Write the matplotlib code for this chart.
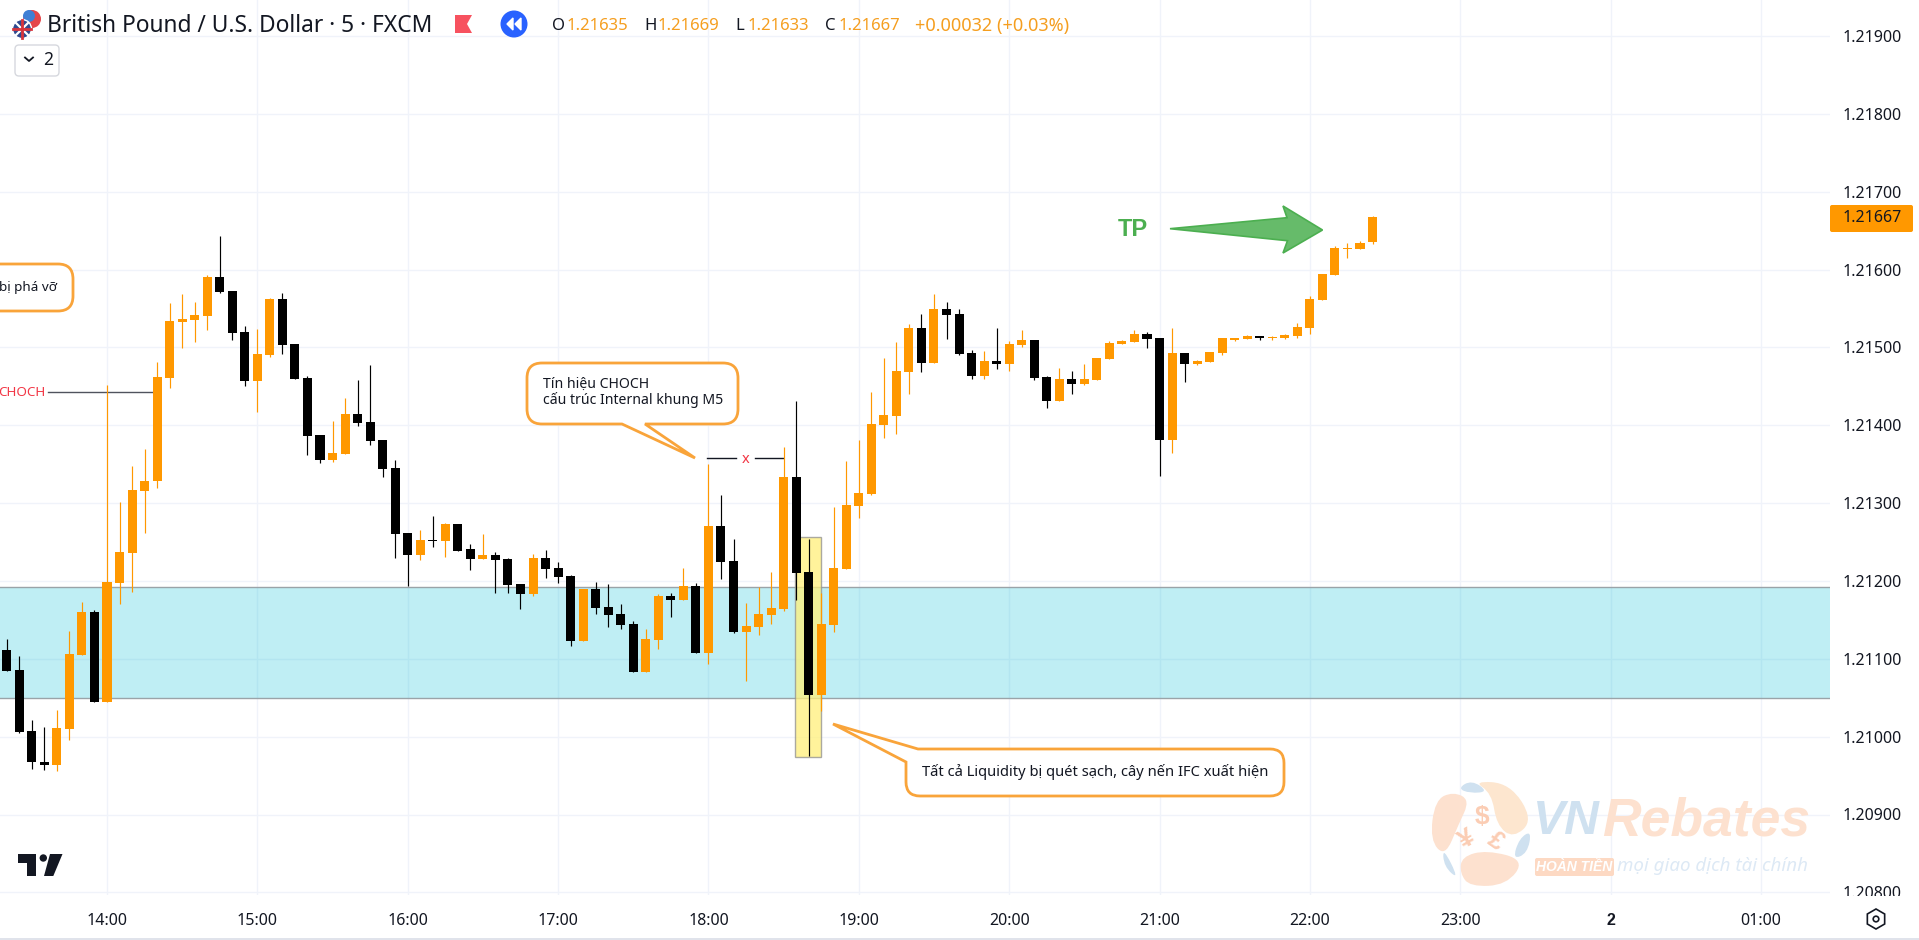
import numpy as np
import matplotlib
matplotlib.use("Agg")
import matplotlib.pyplot as plt
from matplotlib.path import Path
from matplotlib.patches import PathPatch, Rectangle, Circle, RegularPolygon, FancyBboxPatch

plt.rcParams['font.family'] = ['Noto Sans', 'DejaVu Sans']

# prices in 1e-5 units, one entry per 5 minute bar, first bar is 13:20
opens = [121111, 121086, 121007, 120967, 120964, 121010, 121105, 121160,
         121044, 121197, 121236, 121316, 121328, 121461, 121532, 121535, 121540, 121590, 121572, 121520,
         121457, 121490, 121562, 121504, 121461, 121387, 121355, 121363, 121414, 121404, 121381, 121345,
         121262, 121233, 121253, 121251, 121273, 121241, 121228, 121233, 121228, 121196, 121183, 121229,
         121217, 121206, 121123, 121190, 121167, 121158, 121145, 121083, 121124, 121181, 121176, 121194,
         121107, 121271, 121226, 121134, 121141, 121156, 121164, 121334, 121212, 121053, 121143, 121215,
         121296, 121312, 121400, 121412, 121468, 121525, 121480, 121549, 121543, 121493, 121463, 121482,
         121479, 121503, 121509, 121462, 121431, 121459, 121453, 121458, 121485, 121504, 121507, 121517,
         121512, 121381, 121493, 121479, 121481, 121493, 121509, 121511, 121515, 121512, 121512, 121515,
         121525, 121561, 121593, 121626, 121626, 121635]
highs = [121126, 121104, 121022, 121012, 121034, 121136, 121173, 121163,
         121452, 121301, 121348, 121369, 121481, 121557, 121568, 121558, 121593, 121643, 121572, 121528,
         121523, 121564, 121570, 121504, 121463, 121387, 121405, 121435, 121458, 121478, 121381, 121356,
         121262, 121266, 121283, 121274, 121273, 121247, 121260, 121237, 121229, 121196, 121235, 121240,
         121224, 121208, 121190, 121199, 121196, 121170, 121149, 121138, 121183, 121185, 121217, 121197,
         121350, 121310, 121254, 121172, 121192, 121211, 121372, 121431, 121254, 121185, 121295, 121354,
         121381, 121443, 121486, 121507, 121530, 121543, 121569, 121558, 121549, 121497, 121495, 121525,
         121508, 121522, 121509, 121463, 121473, 121470, 121479, 121486, 121508, 121510, 121522, 121520,
         121512, 121525, 121493, 121484, 121494, 121512, 121512, 121516, 121515, 121515, 121517, 121531,
         121566, 121594, 121630, 121634, 121637, 121669]
lows = [121084, 121005, 120959, 120957, 120956, 120996, 121105, 121044,
        121044, 121171, 121186, 121262, 121320, 121448, 121499, 121507, 121522, 121570, 121509, 121450,
        121417, 121488, 121492, 121459, 121362, 121352, 121353, 121363, 121399, 121375, 121333, 121229,
        121193, 121227, 121243, 121231, 121238, 121214, 121228, 121185, 121185, 121164, 121181, 121204,
        121197, 121116, 121123, 121158, 121141, 121138, 121083, 121083, 121113, 121154, 121176, 121107,
        121093, 121203, 121133, 121071, 121131, 121145, 121161, 121176, 120975, 121033, 121134, 121215,
        121281, 121310, 121383, 121389, 121440, 121468, 121480, 121511, 121490, 121459, 121459, 121472,
        121470, 121500, 121458, 121422, 121431, 121440, 121452, 121458, 121485, 121504, 121507, 121499,
        121335, 121364, 121456, 121477, 121481, 121490, 121508, 121511, 121509, 121509, 121511, 121512,
        121517, 121561, 121593, 121615, 121626, 121633]
closes = [121084, 121006, 120967, 120963, 121011, 121106, 121160, 121044,
          121199, 121237, 121317, 121329, 121462, 121534, 121536, 121541, 121590, 121571, 121518, 121457,
          121492, 121562, 121503, 121459, 121386, 121355, 121364, 121414, 121403, 121380, 121344, 121260,
          121233, 121252, 121251, 121273, 121239, 121228, 121233, 121227, 121195, 121183, 121229, 121215,
          121205, 121123, 121190, 121165, 121156, 121143, 121083, 121125, 121181, 121176, 121194, 121107,
          121271, 121224, 121134, 121142, 121158, 121165, 121334, 121210, 121053, 121145, 121217, 121297,
          121313, 121402, 121413, 121470, 121525, 121480, 121549, 121542, 121491, 121463, 121482, 121479,
          121504, 121509, 121461, 121431, 121459, 121453, 121459, 121486, 121506, 121508, 121517, 121511,
          121381, 121493, 121479, 121482, 121494, 121512, 121512, 121515, 121512, 121513, 121516, 121526,
          121562, 121594, 121628, 121628, 121634, 121667]
first_bar = -8  # bar 0 is 14:00

time_ticks = [0, 12, 24, 36, 48, 60, 72, 84, 96, 108, 120, 132]
time_labels = ['14:00', '15:00', '16:00', '17:00', '18:00', '19:00', '20:00', '21:00', '22:00', '23:00', '2', '01:00']
price_ticks = [1.208, 1.209, 1.21, 1.211, 1.212, 1.213, 1.214, 1.215, 1.216, 1.217, 1.218, 1.219]
last_price = 1.21667
zone_top, zone_bottom = 1.21192, 1.21050
ifc_left, ifc_right, ifc_top, ifc_bottom = 54.9, 57.0, 1.212565, 1.20974
choch_price = 1.21443
x_price = 1.21358

ORANGE = '#FF9800'
GRID = '#F0F3FA'
INK = '#131722'
BOLD = 'Liberation Sans'

fig = plt.figure(figsize=(19.19, 9.40), dpi=100)
ax = fig.add_axes([0, 45 / 940, 1830 / 1919, 895 / 940])
ax.set_xlim(-107 / 12.53, (1830 - 107) / 12.53)
ax.set_ylim(1.219 - 859 / 77850, 1.219 + 36 / 77850)

o = np.array(opens) / 1e5
h = np.array(highs) / 1e5
l = np.array(lows) / 1e5
c = np.array(closes) / 1e5
idx = np.arange(len(o)) + first_bar
colors = [ORANGE if cc >= oo else '#000000' for oo, cc in zip(o, c)]

ax.axhspan(zone_bottom, zone_top, facecolor='#00BCD4', alpha=0.25, zorder=1.5, lw=0)
ax.axhline(zone_top, color='#9AA3A8', lw=1, zorder=1.6)
ax.axhline(zone_bottom, color='#9AA3A8', lw=1, zorder=1.6)
ax.add_patch(Rectangle((ifc_left, ifc_bottom), ifc_right - ifc_left, ifc_top - ifc_bottom,
                       facecolor='#FFF07A', alpha=0.75, edgecolor='#8F8F8F', lw=1, zorder=1.8))

ax.vlines(idx, l, h, colors=colors, lw=0.85, zorder=3)
ax.bar(idx, np.maximum(np.abs(c - o), 1.5e-5), bottom=np.minimum(o, c), width=0.72, color=colors, lw=0, zorder=3.1)

# CHOCH marks
ax.plot([-4.7, 3.67], [choch_price, choch_price], color='#50535E', lw=1, zorder=2.5)
ax.text(-4.95, choch_price - 1e-5, 'CHOCH', color='#F23645', fontsize=9.7, ha='right', va='center')
ax.plot([47.9, 50.2], [x_price, x_price], color='#131722', lw=1, zorder=2.5)
ax.plot([51.75, 53.95], [x_price, x_price], color='#131722', lw=1, zorder=2.5)
ax.text(50.95, x_price - 2e-5, 'x', color='#F23645', fontsize=10.5, ha='center', va='center')

ax.set_xticks(time_ticks)
ax.set_xticklabels(time_labels)
ax.set_yticks(price_ticks)
ax.set_yticklabels(['%.5f' % p for p in price_ticks])
ax.yaxis.tick_right()
ax.grid(True, color=GRID, lw=1, zorder=0)
ax.set_axisbelow(True)
ax.tick_params(axis='both', length=0, labelcolor=INK, labelsize=11.5)
ax.tick_params(axis='y', pad=9)
ax.tick_params(axis='x', pad=13)
ax.get_xticklabels()[10].set_fontfamily(BOLD)
ax.get_xticklabels()[10].set_fontweight('bold')
for s in ax.spines.values():
    s.set_visible(False)

# everything below is chart furniture, placed in screen pixels
ov = fig.add_axes([0, 0, 1, 1], zorder=5)
ov.set_xlim(0, 1919)
ov.set_ylim(940, 0)
ov.axis('off')
ov.patch.set_alpha(0)


def round_poly(pts):
    verts, codes = [], []
    n = len(pts)
    for k, (x, y, r) in enumerate(pts):
        p = np.array([x, y], dtype=float)
        if r == 0:
            verts.append(p)
            codes.append(Path.LINETO)
            continue
        a = np.array(pts[k - 1][:2], dtype=float)
        b = np.array(pts[(k + 1) % n][:2], dtype=float)
        u = (a - p) / np.linalg.norm(a - p)
        v = (b - p) / np.linalg.norm(b - p)
        verts += [p + u * r, p, p + v * r]
        codes += [Path.LINETO, Path.CURVE3, Path.CURVE3]
    codes[0] = Path.MOVETO
    verts.append(verts[0])
    codes.append(Path.CLOSEPOLY)
    return Path(verts, codes)


def shape(pts, **kw):
    ov.add_patch(PathPatch(round_poly(pts), **kw))


def blob(ctrl, **kw):
    # closed quadratic spline through edge midpoints, ctrl given in crop pixels
    p = np.array([(1420 + a / 3, 770 + b / 3) for a, b in ctrl])
    mid = (p + np.roll(p, -1, axis=0)) / 2
    verts, codes = [mid[-1]], [Path.MOVETO]
    for k in range(len(p)):
        verts += [p[k], mid[k]]
        codes += [Path.CURVE3, Path.CURVE3]
    ov.add_patch(PathPatch(Path(verts, codes), **kw))


callout = dict(facecolor='white', edgecolor='#F9A43A', lw=2, zorder=6)
shape([(-40, 264, 15), (73, 264, 15), (73, 311, 15), (-40, 311, 15)], **callout)
shape([(527, 363, 15), (738, 363, 15), (738, 424, 15), (645, 424, 0), (695, 458, 0), (622, 424, 0), (527, 424, 15)], **callout)
shape([(918, 749, 0), (1284, 749, 14), (1284, 796, 14), (906, 796, 14), (906, 762, 0), (833, 724, 0)], **callout)
ov.text(57, 287, 'bị phá vỡ', fontsize=9.7, color=INK, ha='right', va='center', zorder=7)
ov.text(543, 384, 'Tín hiệu CHOCH', fontsize=10.1, color=INK, va='center', zorder=7)
ov.text(543, 400, 'cấu trúc Internal khung M5', fontsize=10.1, color=INK, va='center', zorder=7)
ov.text(922, 772, 'Tất cả Liquidity bị quét sạch, cây nến IFC xuất hiện', fontsize=10.6, color=INK, va='center', zorder=7)

# TP arrow
shape([(1170, 228.7, 0), (1287, 217.7, 0), (1283, 206, 0), (1322.5, 230, 0), (1283, 253, 0), (1287.5, 240.7, 0)],
      facecolor='#66BB6A', edgecolor='#4CAF50', lw=1.2, zorder=6)
ov.text(1133, 229, 'TP', color='#4CAF50', fontsize=17, family=BOLD, fontweight='bold', ha='center', va='center')

# header
ov.add_patch(Circle((32, 19), 9, facecolor='#E4464A', zorder=6))
ov.add_patch(Circle((29, 16), 6, facecolor='#3F7FD4', zorder=6))
ov.add_patch(Circle((22, 29), 9.5, facecolor='#2F4A8F', edgecolor='white', lw=1, zorder=7))
ov.plot([16, 28], [23, 35], color='white', lw=1.6, zorder=8)
ov.plot([16, 28], [35, 23], color='white', lw=1.6, zorder=8)
ov.plot([13, 31], [29, 29], color='#D8343C', lw=2, zorder=9)
ov.plot([22, 22], [20, 38], color='#D8343C', lw=2, zorder=9)
ov.text(47, 26.5, 'British Pound / U.S. Dollar · 5 · FXCM', fontsize=16.4, color=INK, va='center')
shape([(455, 15, 0), (472, 15, 0), (467, 24, 0), (472, 33, 0), (455, 33, 0)], facecolor='#F7525F', lw=0, zorder=6)
ov.add_patch(Circle((514, 24), 13.5, facecolor='#2962FF', zorder=6))
shape([(513, 18, 0), (513, 30, 0), (507, 24, 0)], facecolor='white', edgecolor='white', lw=1, zorder=7)
shape([(521, 18, 0), (521, 30, 0), (515, 24, 0)], facecolor='white', edgecolor='white', lw=1, zorder=7)
VAL = '#F59E1F'
for x, s, col, fs in [(552, 'O', INK, 12), (567, '1.21635', VAL, 12), (644, 'H', INK, 12), (658, '1.21669', VAL, 12),
                      (735, 'L', INK, 12), (748, '1.21633', VAL, 12), (825, 'C', INK, 12), (839, '1.21667', VAL, 12),
                      (915, '+0.00032 (+0.03%)', VAL, 13)]:
    ov.text(x, 26, s, color=col, fontsize=fs, va='center')
ov.add_patch(FancyBboxPatch((15, 45), 44, 31, boxstyle='round,pad=0,rounding_size=4',
                            facecolor='white', edgecolor='#D6D8DE', lw=1, zorder=6))
ov.plot([25, 29, 33], [57.5, 61, 57.5], color=INK, lw=1.3, zorder=7)
ov.text(48, 60, '2', color=INK, fontsize=12.5, ha='center', va='center', zorder=7)

# last price tag
ov.add_patch(FancyBboxPatch((1830, 205), 83, 27, boxstyle='round,pad=0,rounding_size=2',
                            facecolor=ORANGE, lw=0, zorder=6))
ov.text(1843, 218.5, '%.5f' % last_price, color=INK, fontsize=11.5, va='center', zorder=7)

# bottom bits
ov.add_patch(Rectangle((1835, 896), 84, 16, facecolor='white', lw=0, zorder=6))
ov.add_patch(Rectangle((0, 938), 1919, 2, facecolor='#E0E3EB', lw=0, zorder=6))
ov.add_patch(RegularPolygon((1876, 919), 6, radius=10, facecolor='none', edgecolor=INK, lw=1.2, zorder=6))
ov.add_patch(Circle((1876, 919), 2.8, facecolor='none', edgecolor=INK, lw=1.2, zorder=6))

# tradingview mark
shape([(18, 854, 0), (36, 854, 0), (36, 876, 0), (27, 876, 0), (27, 863, 0), (18, 863, 0)], facecolor=INK, lw=0, zorder=6)
ov.add_patch(Circle((43.3, 858), 3.7, facecolor=INK, lw=0, zorder=6))
shape([(50, 854, 0), (62.5, 854, 0), (53.3, 876, 0), (44, 876, 0)], facecolor=INK, lw=0, zorder=6)

# watermark
PEACH = '#FDE1CF'
BLUE = '#CFE1F0'
blob([(100, 65), (150, 90), (115, 165), (75, 260), (30, 210), (45, 90)], facecolor=PEACH, lw=0, zorder=2)
blob([(160, 33), (270, 40), (340, 150), (280, 205), (230, 165), (215, 70)], facecolor='#FDE6CF', lw=0, zorder=2)
blob([(125, 260), (200, 240), (315, 270), (260, 345), (150, 350), (120, 310)], facecolor=PEACH, lw=0, zorder=2)
blob([(113, 55), (155, 30), (205, 65), (150, 70)], facecolor=BLUE, lw=0, zorder=2)
blob([(68, 230), (118, 330), (72, 290)], facecolor=BLUE, lw=0, zorder=2)
blob([(278, 268), (298, 205), (335, 182), (322, 250)], facecolor=BLUE, lw=0, zorder=2)
ov.text(1482, 817, '$', color='#FBCDB4', fontsize=19, family=BOLD, fontweight='bold', ha='center', va='center', zorder=2)
ov.text(1467, 839, '¥', color='#FBCDB4', fontsize=19, family=BOLD, fontweight='bold', rotation=30, ha='center', va='center', zorder=2)
ov.text(1495, 841, '£', color='#FBCDB4', fontsize=18, family=BOLD, fontweight='bold', rotation=-35, ha='center', va='center', zorder=2)
ov.text(1533, 822, 'VN', color=BLUE, fontsize=34.7, family=BOLD, fontweight='bold', style='italic', va='center', zorder=2)
ov.text(1602, 822, 'Rebates', color=PEACH, fontsize=38.5, family=BOLD, fontweight='bold', style='italic', va='center', zorder=2)
ov.add_patch(FancyBboxPatch((1535, 858), 79, 18, boxstyle='round,pad=0,rounding_size=2', facecolor='#FDD9C3', lw=0, zorder=2))
ov.text(1574.5, 867, 'HOÀN TIỀN', color='white', fontsize=10, family=BOLD, fontweight='bold', style='italic', ha='center', va='center', zorder=3)
ov.text(1617, 866, 'mọi giao dịch tài chính', color='#DDE9F5', fontsize=13.5, style='italic', va='center', zorder=2)

fig.savefig('out.png', dpi=100)
